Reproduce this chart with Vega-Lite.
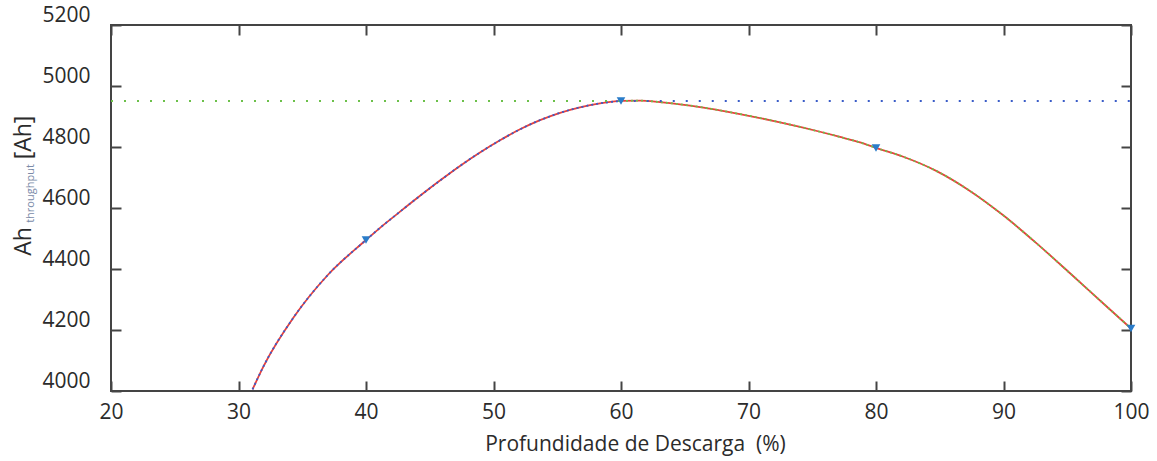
{
  "$schema": "https://vega.github.io/schema/vega-lite/v6.json",
  "width": 1020,
  "height": 366,
  "autosize": {"type": "none"},
  "padding": {"left": 111, "top": 25, "right": 26, "bottom": 70},
  "background": "white",
  "config": {
    "view": {"stroke": "#444444", "strokeWidth": 2},
    "axis": {
      "grid": false,
      "domain": false,
      "tickSize": -10,
      "tickColor": "#444444",
      "tickWidth": 2,
      "labelFont": "Open Sans",
      "labelFontSize": 21,
      "labelColor": "#2b2b2b",
      "labelFlush": false,
      "format": "d",
      "titleFont": "Open Sans",
      "titleFontWeight": "normal",
      "titleColor": "#2b2b2b"
    }
  },
  "datasets": {
    "curve": [
      {"x": 31.1, "y": 4005}, {"x": 31.95, "y": 4080}, {"x": 34.3, "y": 4240}, {"x": 37.04, "y": 4382},
      {"x": 40.0, "y": 4495}, {"x": 41.1, "y": 4535}, {"x": 42.67, "y": 4588}, {"x": 44.24, "y": 4640},
      {"x": 45.8, "y": 4690}, {"x": 47.37, "y": 4738}, {"x": 48.94, "y": 4782}, {"x": 50.51, "y": 4822},
      {"x": 52.08, "y": 4858}, {"x": 53.65, "y": 4888}, {"x": 55.22, "y": 4912}, {"x": 56.78, "y": 4930},
      {"x": 58.35, "y": 4943}, {"x": 60.0, "y": 4951}, {"x": 61.5, "y": 4952}, {"x": 63.06, "y": 4947},
      {"x": 64.63, "y": 4940}, {"x": 66.2, "y": 4931}, {"x": 67.76, "y": 4920}, {"x": 69.33, "y": 4908},
      {"x": 70.9, "y": 4895}, {"x": 72.47, "y": 4881}, {"x": 74.04, "y": 4866}, {"x": 75.61, "y": 4850},
      {"x": 77.18, "y": 4833}, {"x": 78.75, "y": 4815}, {"x": 80.0, "y": 4797}, {"x": 82.14, "y": 4768},
      {"x": 84.76, "y": 4721}, {"x": 87.37, "y": 4656}, {"x": 89.98, "y": 4576}, {"x": 92.6, "y": 4484},
      {"x": 95.22, "y": 4386}, {"x": 97.83, "y": 4287}, {"x": 100.0, "y": 4205}
    ],
    "points": [
      {"x": 40, "y": 4495}, {"x": 60, "y": 4951}, {"x": 80, "y": 4797}, {"x": 100, "y": 4205}
    ],
    "hlines": [
      {"x": 20, "x2": 60, "y": 4951, "seg": "green"},
      {"x": 61, "x2": 100, "y": 4951, "seg": "blue"}
    ]
  },
  "layer": [
    {
      "data": {"name": "curve"},
      "mark": {"type": "line", "color": "#e8403c", "strokeWidth": 1.8, "interpolate": "monotone"},
      "encoding": {
        "x": {"field": "x", "type": "quantitative", "scale": {"domain": [20, 100], "nice": false, "zero": false},
          "axis": {"orient": "bottom", "values": [20, 30, 40, 50, 60, 70, 80, 90, 100], "labelPadding": 20,
            "title": "Profundidade de Descarga\u00a0\u00a0(%)", "titleFontSize": 21, "titleX": 524, "titleY": 42, "titleBaseline": "top"}},
        "y": {"field": "y", "type": "quantitative", "scale": {"domain": [4000, 5200], "nice": false, "zero": false},
          "axis": {"orient": "left", "values": [4000, 4200, 4400, 4600, 4800, 5000, 5200], "labelPadding": 31, "labelOffset": -10,
            "title": "Ah", "titleFontSize": 23, "titleAngle": -90, "titleX": -81, "titleY": 216, "titleAlign": "center", "titleBaseline": "alphabetic"}}
      }
    },
    {
      "data": {"name": "curve"},
      "transform": [{"filter": "datum.x <= 60"}],
      "mark": {"type": "line", "color": "#3a5cc8", "strokeWidth": 1.8, "strokeDash": [2, 3], "interpolate": "monotone"},
      "encoding": {
        "x": {"field": "x", "type": "quantitative", "axis": null},
        "y": {"field": "y", "type": "quantitative", "axis": null}
      }
    },
    {
      "data": {"name": "curve"},
      "transform": [{"filter": "datum.x >= 60"}],
      "mark": {"type": "line", "color": "#6cc04a", "strokeWidth": 1.8, "strokeDash": [2, 3], "interpolate": "monotone"},
      "encoding": {
        "x": {"field": "x", "type": "quantitative", "axis": null},
        "y": {"field": "y", "type": "quantitative", "axis": null}
      }
    },
    {
      "data": {"name": "hlines"},
      "transform": [{"filter": "datum.seg == 'green'"}],
      "mark": {"type": "rule", "color": "#6cc04a", "strokeWidth": 2, "strokeDash": [2, 11]},
      "encoding": {
        "x": {"field": "x", "type": "quantitative", "axis": null},
        "x2": {"field": "x2"},
        "y": {"field": "y", "type": "quantitative", "axis": null}
      }
    },
    {
      "data": {"name": "hlines"},
      "transform": [{"filter": "datum.seg == 'blue'"}],
      "mark": {"type": "rule", "color": "#3a5cc8", "strokeWidth": 2, "strokeDash": [2, 11]},
      "encoding": {
        "x": {"field": "x", "type": "quantitative", "axis": null},
        "x2": {"field": "x2"},
        "y": {"field": "y", "type": "quantitative", "axis": null}
      }
    },
    {
      "data": {"name": "points"},
      "mark": {"type": "point", "shape": "triangle-down", "filled": true, "color": "#2a7cc9", "size": 75, "opacity": 1},
      "encoding": {
        "x": {"field": "x", "type": "quantitative",
          "axis": {"orient": "top", "values": [20, 30, 40, 50, 60, 70, 80, 90, 100], "labels": false,
            "title": "[Ah]", "titleFontSize": 23, "titleAngle": -90, "titleX": -81, "titleY": 112, "titleAlign": "center", "titleBaseline": "alphabetic"}},
        "y": {"field": "y", "type": "quantitative",
          "axis": {"orient": "right", "values": [4000, 4200, 4400, 4600, 4800, 5000, 5200], "labels": false,
            "title": "throughput", "titleFontSize": 11, "titleColor": "#7a8aa8", "titleAngle": -90, "titleX": -1098, "titleY": 168, "titleAlign": "center", "titleBaseline": "alphabetic"}}
      }
    }
  ],
  "resolve": {"axis": {"x": "independent", "y": "independent"}}
}
